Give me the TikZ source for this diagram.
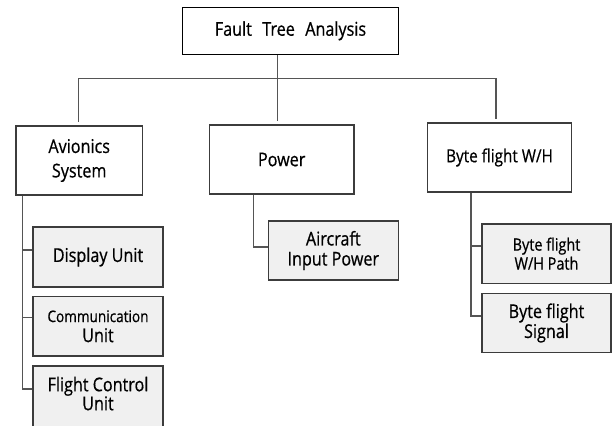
\documentclass[tikz,border=0pt]{standalone}
\usepackage{fontspec}
\setmainfont{Open Sans}[FakeStretch=0.85, FakeBold=0.6]
\definecolor{boxc}{HTML}{3C3C3C}
\definecolor{linec}{HTML}{555555}
\definecolor{subfill}{HTML}{F0F0F0}
\begin{document}
\begin{tikzpicture}[x=1pt,y=-1pt,
  box/.style={draw=boxc, line width=1.4pt, fill=white, align=center, inner sep=0pt,
    font=\fontsize{19}{20}\selectfont},
  topbox/.style={box, minimum width=#1, minimum height=69pt},
  sub/.style={box, fill=subfill, minimum width=130pt, minimum height=59.5pt},
  conn/.style={draw=linec, line width=1.5pt}]
\useasboundingbox (0,0) rectangle (612,425);
% nodes
\node[box, draw=black, line width=1pt, minimum width=215.6pt, minimum height=47pt] (fta) at (290.5,30.8) {Fault\hspace{0.55em}Tree\hspace{0.55em}Analysis};
\node[topbox=126.3pt, font=\fontsize{19}{24.4}\selectfont] (av) at (79.2,160.5) {Avionics\\System};
\node[topbox=144.7pt] (pw) at (281.7,159.5) {Power};
\node[topbox=144.4pt, font=\fontsize{18}{20}\selectfont] (bw) at (499.5,157.5) {Byte flight W/H};
\node[sub, minimum height=60pt] (disp) at (98,257) {Display Unit};
\node[sub, minimum height=59.3pt] (comm) at (98,326.3) {{\fontsize{16}{18}\selectfont Communication}\\Unit};
\node[sub, minimum height=64pt, text depth=9pt, font=\fontsize{19}{19}\selectfont] (fcu) at (98,398) {Flight Control\\Unit};
\node[sub, minimum height=59pt] (air) at (333.3,250.5) {Aircraft\\Input Power};
\node[sub, minimum width=129pt, minimum height=59.3pt, font=\fontsize{17}{19}\selectfont] (bwp) at (546.5,253.7) {Byte flight\\W/H Path};
\node[sub, minimum width=129pt, minimum height=59.4pt] (bsig) at (546.5,323) {Byte flight\\Signal};
% top connectors
\coordinate (barl) at (78.3,78.3);
\coordinate (barr) at (496,78.3);
\coordinate (tx) at (277.7,0);
\draw[conn] (barl) -- (barr);
\draw[conn, shorten >=3pt] (barl) -- (av.north -| barl);
\draw[conn, shorten >=3pt] (barr) -- (bw.north -| barr);
\draw[conn, shorten >=3pt] (fta.south -| tx) -- (pw.north -| tx);
% avionics branch
\coordinate (avs) at ([xshift=7.3pt]av.south west);
\path ([yshift=7pt]disp.west) coordinate (dt)
      ([yshift=8.6pt]comm.west) coordinate (ct)
      ([yshift=9pt]fcu.west) coordinate (ft);
\draw[conn] (avs) |- (ft);
\draw[conn] (dt -| avs) -- (dt);
\draw[conn] (ct -| avs) -- (ct);
% power branch
\coordinate (pws) at ([xshift=44.7pt]pw.south west);
\path ([yshift=3.5pt]air.west) coordinate (at);
\draw[conn] (pws) |- (at);
% byte flight branch
\coordinate (bws) at ([xshift=44.4pt]bw.south west);
\path ([yshift=7.7pt]bwp.west) coordinate (bt)
      ([yshift=7pt]bsig.west) coordinate (st);
\draw[conn] (bws) |- (st);
\draw[conn] (bt -| bws) -- (bt);
\end{tikzpicture}
\end{document}
